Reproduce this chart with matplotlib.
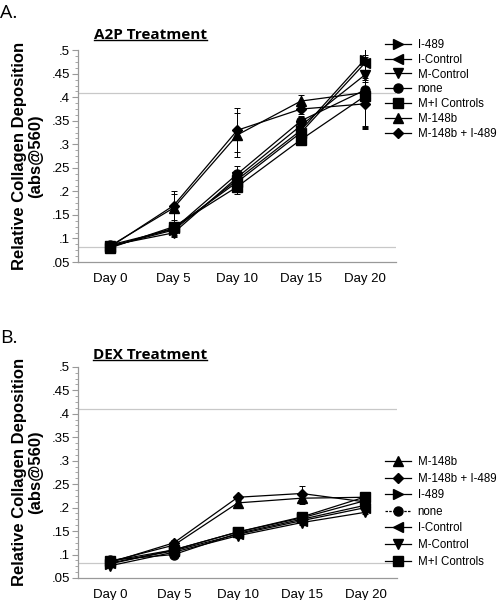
import matplotlib.pyplot as plt
from matplotlib.lines import Line2D

plt.rcParams['font.family'] = ['Liberation Sans', 'DejaVu Sans']

days = ['Day 0', 'Day 5', 'Day 10', 'Day 15', 'Day 20']
yticks = [0.05, 0.1, 0.15, 0.2, 0.25, 0.3, 0.35, 0.4, 0.45, 0.5]
ytick_labels = ['.05', '.1', '.15', '.2', '.25', '.3', '.35', '.4', '.45', '.5']
ref_lines = [0.41, 0.082]

markers = {'I-489': '>', 'I-Control': '<', 'M-Control': 'v', 'none': 'o',
           'M+I Controls': 's', 'M-148b': '^', 'M-148b + I-489': 'D'}

# A2P treatment
a2p_order = ['I-489', 'I-Control', 'M-Control', 'none', 'M+I Controls', 'M-148b', 'M-148b + I-489']
a2p_vals = {
    'I-489':          [0.083, 0.118, 0.225, 0.330, 0.480],
    'I-Control':      [0.082, 0.122, 0.220, 0.325, 0.472],
    'M-Control':      [0.085, 0.112, 0.230, 0.340, 0.447],
    'none':           [0.086, 0.120, 0.237, 0.350, 0.415],
    'M+I Controls':   [0.080, 0.125, 0.210, 0.310, 0.402],
    'M-148b':         [0.084, 0.165, 0.320, 0.392, 0.410],
    'M-148b + I-489': [0.082, 0.170, 0.330, 0.375, 0.386],
}
a2p_err = {
    'I-489':          [0.003, 0.010, 0.015, 0.010, 0.040],
    'I-Control':      [0.003, 0.010, 0.015, 0.010, 0.040],
    'M-Control':      [0.003, 0.008, 0.012, 0.010, 0.030],
    'none':           [0.003, 0.015, 0.018, 0.010, 0.075],
    'M+I Controls':   [0.003, 0.010, 0.015, 0.008, 0.070],
    'M-148b':         [0.004, 0.030, 0.047, 0.012, 0.075],
    'M-148b + I-489': [0.003, 0.030, 0.047, 0.010, 0.050],
}

# DEX treatment
dex_order = ['M-148b', 'M-148b + I-489', 'I-489', 'none', 'I-Control', 'M-Control', 'M+I Controls']
dex_vals = {
    'M-148b':         [0.085, 0.120, 0.210, 0.220, 0.222],
    'M-148b + I-489': [0.083, 0.125, 0.222, 0.230, 0.212],
    'I-489':          [0.080, 0.110, 0.148, 0.178, 0.215],
    'none':           [0.088, 0.100, 0.145, 0.175, 0.205],
    'I-Control':      [0.082, 0.108, 0.143, 0.172, 0.200],
    'M-Control':      [0.076, 0.105, 0.140, 0.168, 0.190],
    'M+I Controls':   [0.086, 0.110, 0.148, 0.180, 0.223],
}
dex_err = {
    'M-148b':         [0.003, 0.005, 0.005, 0.012, 0.004],
    'M-148b + I-489': [0.003, 0.005, 0.005, 0.015, 0.004],
    'I-489':          [0.003, 0.004, 0.004, 0.005, 0.004],
    'none':           [0.003, 0.004, 0.004, 0.010, 0.004],
    'I-Control':      [0.003, 0.004, 0.004, 0.005, 0.004],
    'M-Control':      [0.003, 0.004, 0.004, 0.005, 0.004],
    'M+I Controls':   [0.003, 0.004, 0.004, 0.008, 0.004],
}

fig = plt.figure(figsize=(4.98, 6.0), dpi=100)
axA = fig.add_axes([0.157, 0.5633, 0.639, 0.353])
axB = fig.add_axes([0.157, 0.0367, 0.641, 0.352])


def msize(name):
    return 5.5 if markers[name] == 'D' else 6.5


def draw_panel(ax, order, vals, errs, legend_anchor, spacing, dashed_none):
    x = list(range(len(days)))
    for ref in ref_lines:
        ax.axhline(ref, color='#c8c8c8', lw=0.9, zorder=0)
    for name in order:
        ax.errorbar(x, vals[name], yerr=errs[name], color='black', lw=0.9,
                    marker=markers[name], ms=msize(name),
                    capsize=2.5, elinewidth=0.7, capthick=0.7)
    ax.set_xlim(-0.5, 4.5)
    ax.set_ylim(0.05, 0.5)
    ax.set_xticks(x)
    ax.set_xticklabels(days, fontsize=9.5)
    ax.set_yticks(yticks)
    ax.set_yticklabels(ytick_labels, fontsize=9.5)
    ax.set_yticks([0.05 + 0.0125 * i for i in range(37)], minor=True)
    ax.tick_params(axis='x', length=0, pad=8)
    ax.tick_params(axis='y', which='major', length=4, color='#999999', pad=2)
    ax.tick_params(axis='y', which='minor', length=2, color='#999999')
    for s in ['top', 'right']:
        ax.spines[s].set_visible(False)
    for s in ['left', 'bottom']:
        ax.spines[s].set_color('#999999')
        ax.spines[s].set_linewidth(0.9)
    ax.set_ylabel('Relative Collagen Deposition\n(abs@560)', fontsize=12,
                  fontweight='bold', labelpad=6, linespacing=1.1)
    handles = [Line2D([], [], color='black', lw=0.9, marker=markers[n],
                      ms=msize(n),
                      ls=(0, (2, 1)) if (n == 'none' and dashed_none) else '-')
               for n in order]
    ax.legend(handles, order, loc='upper left', bbox_to_anchor=legend_anchor,
              bbox_transform=fig.transFigure, frameon=False, fontsize=8.3,
              handlelength=2.2, handletextpad=0.6, labelspacing=spacing,
              borderaxespad=0, borderpad=0)


draw_panel(axA, a2p_order, a2p_vals, a2p_err, (0.774, 1 - 39 / 600), 0.24, False)
draw_panel(axB, dex_order, dex_vals, dex_err, (0.774, 1 - 456 / 600), 0.4, True)

titles = [fig.text(150 / 498, 1 - 35 / 600, 'A2P Treatment', fontsize=11,
                   fontweight='bold', family='Open Sans', ha='center', va='center'),
          fig.text(150 / 498, 1 - 355 / 600, 'DEX Treatment', fontsize=11,
                   fontweight='bold', family='Open Sans', ha='center', va='center')]

fig.text(0.0, 1 - 13 / 600, 'A.', fontsize=14, family='Open Sans', va='center')
fig.text(0.0, 1 - 338 / 600, 'B.', fontsize=14, family='Open Sans', va='center')

# underline the titles
fig.canvas.draw()
r = fig.canvas.get_renderer()
for t in titles:
    bb = t.get_window_extent(r)
    y = bb.y0 + 2
    fig.add_artist(Line2D([bb.x0 / fig.bbox.width, bb.x1 / fig.bbox.width],
                          [y / fig.bbox.height, y / fig.bbox.height],
                          color='black', lw=1.0, transform=fig.transFigure))

fig.savefig('out.png', dpi=100)
